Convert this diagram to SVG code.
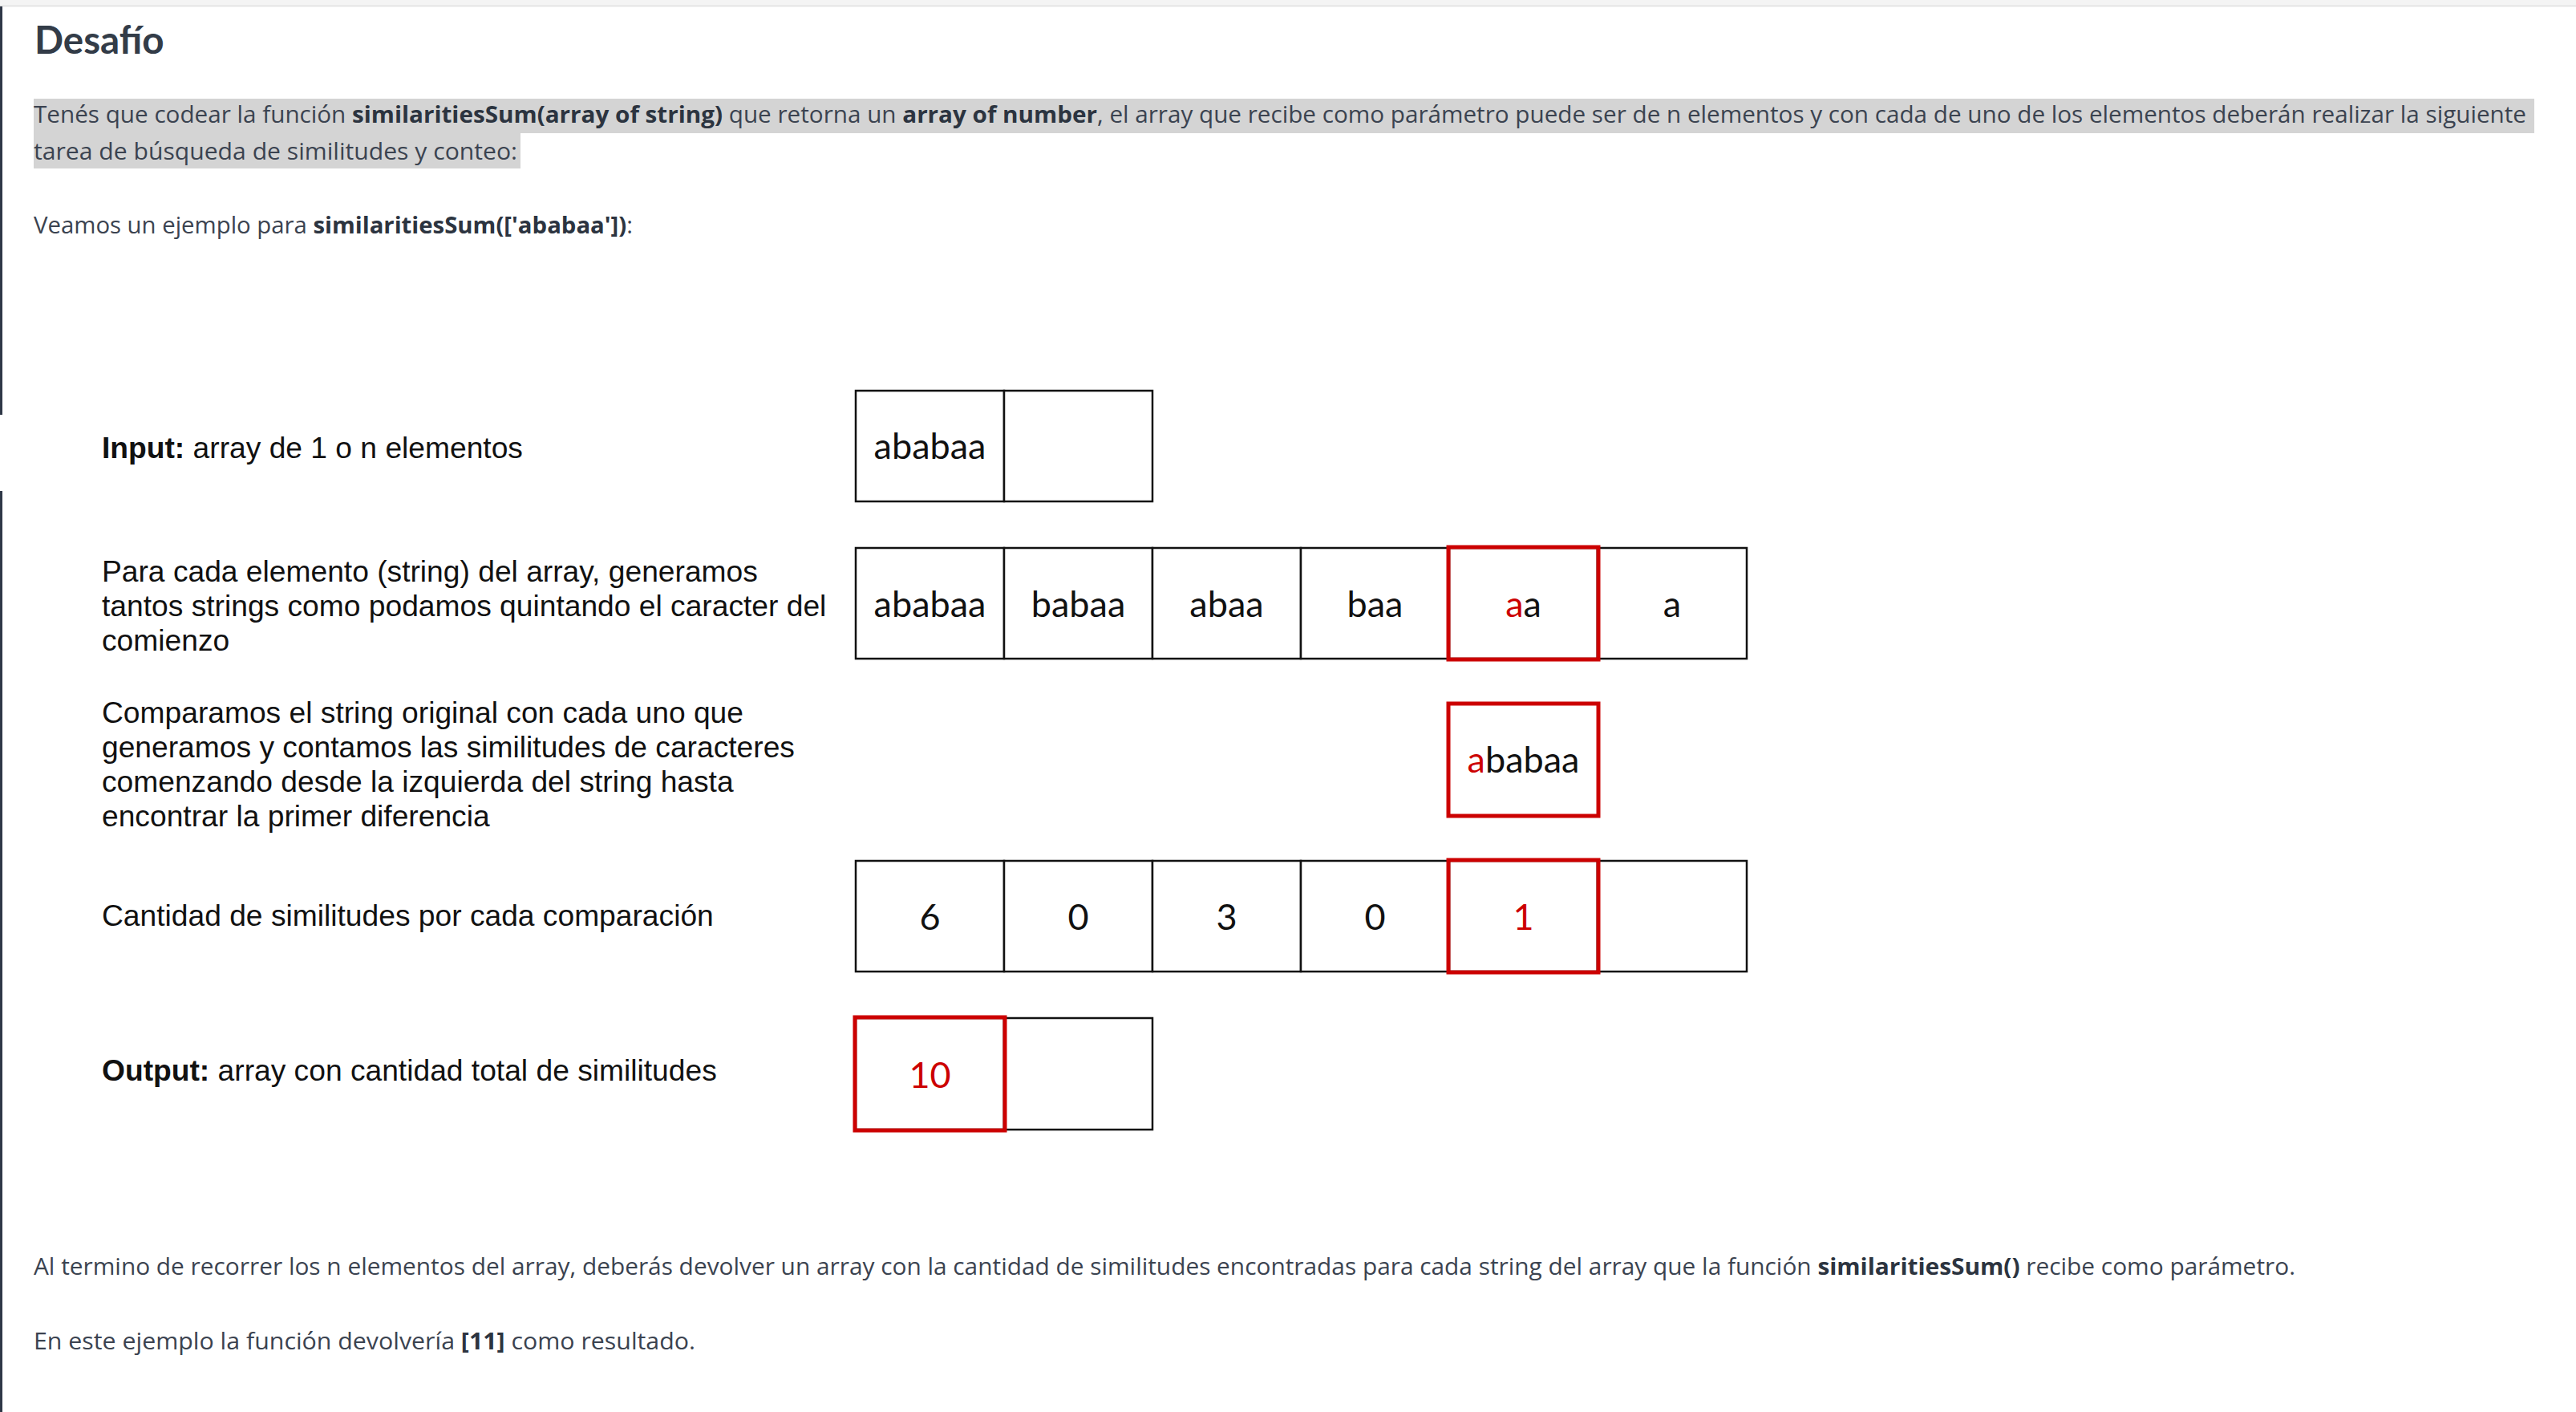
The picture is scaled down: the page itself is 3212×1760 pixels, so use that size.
<svg xmlns="http://www.w3.org/2000/svg" width="3212" height="1760" viewBox="0 0 3212 1760">
<style>
.body{font-family:"Open Sans",Lato,"Liberation Sans",sans-serif;font-size:28.5px;fill:#3b4350}
.b{font-weight:700;fill:#2c3440}
.lbl{font-family:"Liberation Sans",Arial,sans-serif;font-size:37.2px;fill:#111}
.cell{fill:#fff;stroke:#111;stroke-width:2.5}
.hl{fill:none;stroke:#cc0000;stroke-width:5}
.ct{font-family:Lato,"Open Sans",sans-serif;font-size:45px;fill:#111;text-anchor:middle}
.red{fill:#cc0000}
</style>
<rect x="0" y="0" width="3212" height="1760" fill="#fff"/>
<rect x="0" y="0" width="3212" height="7" fill="#f4f4f4"/>
<line x1="0" y1="7.5" x2="3212" y2="7.5" stroke="#dedede" stroke-width="1.5"/>
<rect x="0" y="8" width="3" height="509" fill="#2f3847"/>
<rect x="0" y="612" width="3" height="1148" fill="#2f3847"/>

<g id="header">
<text x="43" y="67" font-family="Lato,'Open Sans',sans-serif" font-size="47.5" font-weight="700" fill="#333c48">Desafío</text>
<rect x="42" y="123" width="3118" height="43" fill="#d4d4d4"/>
<rect x="42" y="165" width="607" height="45" fill="#d4d4d4"/>
<text class="body" x="42" y="153" textLength="3108" lengthAdjust="spacingAndGlyphs">Tenés que codear la función <tspan class="b">similaritiesSum(array of string)</tspan> que retorna un  <tspan class="b">array of number</tspan>, el array que recibe como parámetro puede ser de n elementos y con cada de uno de los elementos deberán realizar la siguiente</text>
<text class="body" x="42" y="199" textLength="603" lengthAdjust="spacingAndGlyphs">tarea de búsqueda de similitudes y conteo:</text>
<text class="body" x="42" y="291" textLength="747" lengthAdjust="spacingAndGlyphs">Veamos un ejemplo para <tspan class="b">similaritiesSum(['ababaa'])</tspan>:</text>
</g>

<g id="label-input">
<text class="lbl" x="127" y="571"><tspan font-weight="700">Input:</tspan> array de 1 o n elementos</text>
</g>
<g id="label-generate">
<text class="lbl" x="127" y="725">Para cada elemento (string) del array, generamos</text>
<text class="lbl" x="127" y="768">tantos strings como podamos quintando el caracter del</text>
<text class="lbl" x="127" y="811">comienzo</text>
</g>
<g id="label-compare">
<text class="lbl" x="127" y="901">Comparamos el string original con cada uno que</text>
<text class="lbl" x="127" y="944">generamos y contamos las similitudes de caracteres</text>
<text class="lbl" x="127" y="987">comenzando desde la izquierda del string hasta</text>
<text class="lbl" x="127" y="1030">encontrar la primer diferencia</text>
</g>
<g id="label-count">
<text class="lbl" x="127" y="1154">Cantidad de similitudes por cada comparación</text>
</g>
<g id="label-output">
<text class="lbl" x="127" y="1347"><tspan font-weight="700">Output:</tspan> array con cantidad total de similitudes</text>
</g>

<g id="input-array">
<rect class="cell" x="1067" y="487" width="185" height="138"/>
<rect class="cell" x="1252" y="487" width="185" height="138"/>
<text class="ct" x="1159.5" y="572">ababaa</text>
</g>

<g id="suffix-array">
<rect class="cell" x="1067" y="683" width="185" height="138"/>
<rect class="cell" x="1252" y="683" width="185" height="138"/>
<rect class="cell" x="1437" y="683" width="185" height="138"/>
<rect class="cell" x="1622" y="683" width="185" height="138"/>
<rect class="cell" x="1807" y="683" width="185" height="138"/>
<rect class="cell" x="1992" y="683" width="186" height="138"/>
<rect class="hl" x="1806" y="682" width="187" height="140"/>
<text class="ct" x="1159.5" y="769">ababaa</text>
<text class="ct" x="1344.5" y="769">babaa</text>
<text class="ct" x="1529.5" y="769">abaa</text>
<text class="ct" x="1714.5" y="769">baa</text>
<text class="ct" x="1899.5" y="769"><tspan class="red">a</tspan>a</text>
<text class="ct" x="2085" y="769">a</text>
</g>

<g id="compare-box">
<rect class="hl" x="1806" y="877" width="187" height="140" fill="#fff"/>
<text class="ct" x="1899.5" y="963"><tspan class="red">a</tspan>babaa</text>
</g>

<g id="count-array">
<rect class="cell" x="1067" y="1073" width="185" height="138"/>
<rect class="cell" x="1252" y="1073" width="185" height="138"/>
<rect class="cell" x="1437" y="1073" width="185" height="138"/>
<rect class="cell" x="1622" y="1073" width="185" height="138"/>
<rect class="cell" x="1807" y="1073" width="185" height="138"/>
<rect class="cell" x="1992" y="1073" width="186" height="138"/>
<rect class="hl" x="1806" y="1072" width="187" height="140"/>
<text class="ct" x="1159.5" y="1159">6</text>
<text class="ct" x="1344.5" y="1159">0</text>
<text class="ct" x="1529.5" y="1159">3</text>
<text class="ct" x="1714.5" y="1159">0</text>
<text class="ct red" x="1899.5" y="1159">1</text>
</g>

<g id="output-array">
<rect class="cell" x="1067" y="1269" width="185" height="139"/>
<rect class="cell" x="1252" y="1269" width="185" height="139"/>
<rect class="hl" x="1066" y="1268" width="187" height="141"/>
<text class="ct red" x="1159.5" y="1356">10</text>
</g>

<g id="footer">
<text class="body" x="42" y="1589" textLength="2820" lengthAdjust="spacingAndGlyphs">Al termino de recorrer los n elementos del array, deberás devolver un array con la cantidad de similitudes encontradas para cada string del array que la función <tspan class="b">similaritiesSum()</tspan> recibe como parámetro.</text>
<text class="body" x="42" y="1682" textLength="825" lengthAdjust="spacingAndGlyphs">En este ejemplo la función devolvería <tspan class="b">[11]</tspan> como resultado.</text>
</g>
</svg>
